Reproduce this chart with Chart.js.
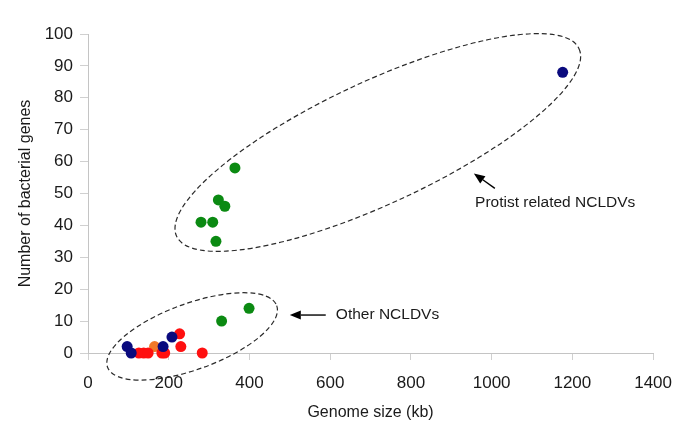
<!DOCTYPE html>
<html>
<head>
<meta charset="utf-8">
<script src="https://cdn.jsdelivr.net/npm/chart.js@4.4.1/dist/chart.umd.min.js"></script>
<style>
  html, body { margin: 0; padding: 0; background: #fff; }
  #wrap { width: 685px; height: 441px; }
</style>
</head>
<body>
<div id="wrap"><canvas id="mycanvas" width="685" height="441"></canvas></div>
<script>
// genome size (kb) and number of bacterial genes, per colour group
var greenSize = [364, 323, 339, 280, 309, 317, 399, 331];
var greenGenes = [58, 48, 46, 41, 41, 35, 14, 10];
var navySize = [1176, 97, 107, 186, 208];
var navyGenes = [88, 2, 0, 2, 5];
var redSize = [126, 138, 149, 183, 190, 227, 230, 283];
var redGenes = [0, 0, 0, 0, 0, 6, 2, 0];
var orangeSize = [165];
var orangeGenes = [2];

var xTicks = [0, 200, 400, 600, 800, 1000, 1200, 1400];
var yTicks = [0, 10, 20, 30, 40, 50, 60, 70, 80, 90, 100];

function points(xs, ys) {
  var out = [];
  for (var i in xs) {
    out.push({x: xs[i], y: ys[i]});
  }
  return out;
}

function group(label, color, xs, ys) {
  return {
    label: label,
    data: points(xs, ys),
    backgroundColor: color,
    borderColor: color,
    borderWidth: 0,
    pointRadius: 5.5,
    pointHoverRadius: 5.5,
    clip: false
  };
}

// dashed ellipses + arrows with labels, anchored in data units
var notes = {
  ellipses: [
    {cx: 718, cy: 66, rx: 222, ry: 61, angle: -25},
    {cx: 258, cy: 5.2, rx: 90, ry: 33, angle: -20}
  ],
  arrows: [
    {x1: 1008, y1: 51.6, x2: 956, y2: 56.3},
    {x1: 589, y1: 11.9, x2: 500, y2: 11.9}
  ],
  labels: [
    {text: "Protist related NCLDVs", x: 959, y: 47.2},
    {text: "Other NCLDVs", x: 614, y: 11.9}
  ]
};

var notesPlugin = {
  id: "notes",
  afterDatasetsDraw: function(chart) {
    var ctx = chart.ctx;
    var xs = chart.scales.x;
    var ys = chart.scales.y;
    ctx.save();
    ctx.strokeStyle = "#2a2a2a";
    ctx.lineWidth = 1.2;
    ctx.setLineDash([5, 3]);
    notes.ellipses.forEach(function(e) {
      ctx.beginPath();
      ctx.ellipse(xs.getPixelForValue(e.cx), ys.getPixelForValue(e.cy), e.rx, e.ry, e.angle * Math.PI / 180, 0, Math.PI * 2);
      ctx.stroke();
    });
    ctx.setLineDash([]);
    ctx.lineWidth = 1.4;
    ctx.fillStyle = "#000";
    ctx.strokeStyle = "#000";
    notes.arrows.forEach(function(a) {
      var x1 = xs.getPixelForValue(a.x1), y1 = ys.getPixelForValue(a.y1);
      var x2 = xs.getPixelForValue(a.x2), y2 = ys.getPixelForValue(a.y2);
      var ang = Math.atan2(y2 - y1, x2 - x1);
      var head = 11, wing = 4.5;
      var bx = x2 - head * Math.cos(ang), by = y2 - head * Math.sin(ang);
      ctx.beginPath();
      ctx.moveTo(x1, y1);
      ctx.lineTo(bx, by);
      ctx.stroke();
      ctx.beginPath();
      ctx.moveTo(x2, y2);
      ctx.lineTo(bx + wing * Math.sin(ang), by - wing * Math.cos(ang));
      ctx.lineTo(bx - wing * Math.sin(ang), by + wing * Math.cos(ang));
      ctx.closePath();
      ctx.fill();
    });
    ctx.font = "15.5px 'Liberation Sans', Arial, sans-serif";
    ctx.fillStyle = "#1a1a1a";
    ctx.textBaseline = "middle";
    ctx.textAlign = "left";
    notes.labels.forEach(function(l) {
      ctx.fillText(l.text, xs.getPixelForValue(l.x), ys.getPixelForValue(l.y));
    });
    ctx.restore();
  }
};

var chartdata = {
  datasets: [
    group("protist", "#0b8a12", greenSize, greenGenes),
    group("navy", "#0a0a7e", navySize, navyGenes),
    group("red", "#ff1010", redSize, redGenes),
    group("orange", "#f07828", orangeSize, orangeGenes)
  ]
};

var ctx = document.getElementById("mycanvas");

var ScatterGraph = new Chart(ctx, {
  type: "scatter",
  data: chartdata,
  plugins: [notesPlugin],
  options: {
    responsive: false,
    animation: false,
    layout: { padding: { left: 0, right: 30, top: 34, bottom: 0 } },
    plugins: { legend: { display: false }, tooltip: { enabled: false } },
    scales: {
      x: {
        type: "linear",
        min: 0,
        max: 1400,
        afterFit: function(scale) { scale.height = 88; },
        afterBuildTicks: function(scale) {
          scale.ticks = xTicks.map(function(v) { return {value: v}; });
        },
        border: { display: true, color: "#c4c4c4", width: 1 },
        grid: { drawOnChartArea: false, drawTicks: true, tickLength: 7, color: "#d0d0d0" },
        ticks: {
          color: "#1a1a1a",
          padding: 13,
          maxRotation: 0,
          callback: function(v) { return String(v); },
          font: { family: "'Liberation Sans', Arial, sans-serif", size: 17 }
        },
        title: {
          display: true,
          text: "Genome size (kb)",
          color: "#1a1a1a",
          padding: { top: 4, bottom: 19 },
          font: { family: "'Liberation Sans', Arial, sans-serif", size: 16 }
        }
      },
      y: {
        type: "linear",
        min: 0,
        max: 100,
        afterFit: function(scale) { scale.width = 88; },
        afterBuildTicks: function(scale) {
          scale.ticks = yTicks.map(function(v) { return {value: v}; });
        },
        border: { display: true, color: "#c4c4c4", width: 1 },
        grid: { drawOnChartArea: false, drawTicks: true, tickLength: 8, color: "#d0d0d0" },
        ticks: {
          color: "#1a1a1a",
          padding: 7,
          callback: function(v) { return String(v); },
          font: { family: "'Liberation Sans', Arial, sans-serif", size: 17 }
        },
        title: {
          display: true,
          text: "Number of bacterial genes",
          color: "#1a1a1a",
          padding: { top: 16, bottom: 0 },
          font: { family: "'Liberation Sans', Arial, sans-serif", size: 16 }
        }
      }
    }
  }
});
</script>
</body>
</html>
